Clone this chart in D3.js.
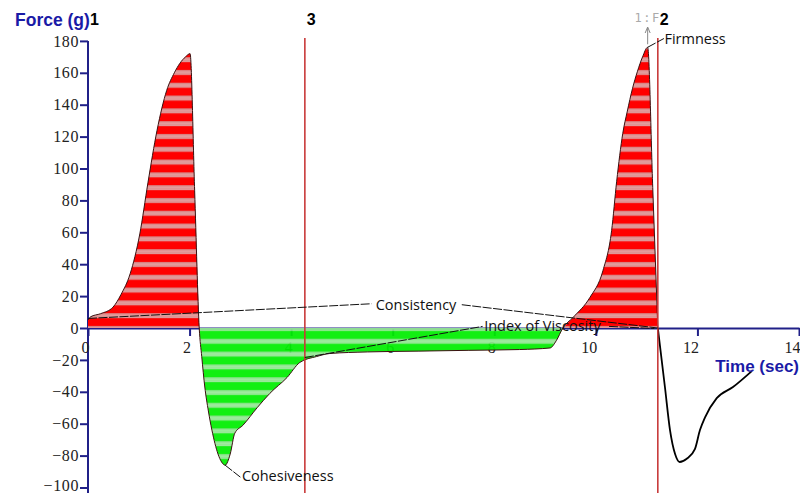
<!DOCTYPE html>
<html><head><meta charset="utf-8">
<script src="https://cdn.jsdelivr.net/npm/d3@7"></script>
<style>body{margin:0;background:#fff}svg{display:block}</style>
</head><body>
<svg id="c" width="800" height="493"></svg>
<script>
// ---- data ----
const timeSec = [0,0.05,0.25,0.49,0.65,0.83,1.02,1.18,1.36,1.55,1.7,1.81,1.92,2.01,2.1,2.19,
  2.24,2.30,2.37,2.44,2.56,2.63,2.70,2.80,2.89,3.05,3.33,3.58,3.92,4.17,4.5,4.76,5.5,6.5,7.5,8.5,9.1,9.22,9.35,
  9.55,9.88,10.14,10.31,10.41,10.53,10.62,10.72,10.82,10.92,11.02,11.12,11.22,
  11.36,11.46,11.56,11.65,11.79,11.95,12.05,12.15,12.38,12.70,13.07];
const forceG = [5,7,9,13,21,34,59,91,124,149,160,166,170,172,86,0,
  -18,-37,-52,-64,-79,-84,-86,-79,-66,-61,-50,-41,-31,-21.6,-17.9,-16,-15,-14.5,-14,-13.5,-12.5,-8,0,
  6.6,19,36,61,92,122,136,150,161,170,176,88,0,
  -37,-64,-79,-84,-82,-76,-64,-56,-44,-37,-27];
// region boundaries (sec): red (positive) 1, green (negative), red 2, unfilled tail
const regions = [[0,2.19,"red"],[2.19,9.35,"green"],[9.35,11.22,"red"]];
const xTicks = [0,2,4,6,8,10,12,14];
const yTicks = [-100,-80,-60,-40,-20,0,20,40,60,80,100,120,140,160,180];
const markers = [{label:"1",t:0.02},{label:"3",t:4.27,line:true},{label:"2",t:11.22,line:true}];
// annotations: label, label anchor (t,F), segments in data units
const annotations = [
  {text:"Consistency", t:6.46, f:14.6, anchor:"middle", segs:[[[0,6],[5.58,15.2]],[[7.36,14.6],[11.22,0]]]},
  {text:"Index of Viscosity", t:7.8, f:1.4, anchor:"start", segs:[[[4.27,-18.5],[7.77,1.0]],[[10.26,1.0],[11.15,-0.3]]]},
  {text:"Cohesiveness", t:3.03, f:-92.5, anchor:"start", segs:[[[2.70,-86],[3.0,-93.5]]]},
  {text:"Firmness", t:11.35, f:181.5, anchor:"start", segs:[[[11.02,176],[11.34,181.5]]]}
];

// ---- chart ----
const svg = d3.select("#c");
const x = d3.scaleLinear().domain([0,14]).range([88,799]);
const y = d3.scaleLinear().domain([-100,180]).range([487.5,40.9]);
const axisCol = "#202088";
const pts = timeSec.map((t,i)=>({t,f:forceG[i]}));

const defs = svg.append("defs");
function stripes(id, base, band, edge){
  const p = defs.append("pattern").attr("id",id).attr("patternUnits","userSpaceOnUse")
    .attr("width",8).attr("height",12.8);
  p.append("rect").attr("width",8).attr("height",12.8).attr("fill",base);
  p.append("rect").attr("y",6).attr("width",8).attr("height",5).attr("fill",band);
  p.append("rect").attr("y",7.5).attr("width",8).attr("height",1).attr("fill",edge);
  p.append("rect").attr("y",9.5).attr("width",8).attr("height",0.8).attr("fill",edge);
}
stripes("redS","#ff0000","#d88a8a","#eaa6a6");
stripes("greenS","#00ee00","#7ee07e","#a8f0a8");

// y axis
const yAx = svg.append("g").attr("transform","translate(88,0)")
  .call(d3.axisLeft(y).tickValues(yTicks).tickSize(8).tickPadding(1).tickSizeOuter(0));
yAx.select(".domain").remove();
yAx.append("line").attr("x1",0).attr("x2",0).attr("y1",y(180)).attr("y2",493)
  .attr("stroke",axisCol).attr("stroke-width",2);
yAx.selectAll(".tick line").attr("stroke",axisCol).attr("stroke-width",2);
yAx.selectAll(".tick text").attr("font-family","'Liberation Serif',serif").attr("font-size",16)
  .attr("fill","#222").attr("letter-spacing","0.6")
  .attr("dy", d => d === -100 ? "0.2em" : "0.32em");

// x axis
const xAx = svg.append("g").attr("transform",`translate(0,${y(0)})`)
  .call(d3.axisBottom(x).tickValues(xTicks).tickSize(8).tickSizeOuter(0));
xAx.select(".domain").attr("stroke",axisCol).attr("stroke-width",2);
xAx.selectAll(".tick line").attr("stroke",axisCol).attr("stroke-width",2);
xAx.selectAll(".tick text").attr("font-family","'Liberation Serif',serif").attr("font-size",16)
  .attr("fill","#222").attr("text-anchor","end").attr("y",14).attr("dy","0.71em").attr("dx",1);

// filled regions
const area = d3.area().x(d=>x(d.t)).y0(y(0)).y1(d=>y(d.f)).curve(d3.curveMonotoneX);
regions.forEach(([a,b,c])=>{
  const seg = pts.filter(d=>d.t>=a-1e-9 && d.t<=b+1e-9);
  svg.append("path").datum(seg).attr("d",area)
    .attr("fill", c==="red"?"url(#redS)":"url(#greenS)")
    .attr("fill-opacity", c==="red"?1:0.93);
});

// curve
const line = d3.line().x(d=>x(d.t)).y(d=>y(d.f)).curve(d3.curveMonotoneX);
svg.append("path").datum(pts.filter(d=>d.t<=11.22)).attr("d",line)
  .attr("fill","none").attr("stroke","#3a1010").attr("stroke-width",1);
svg.append("path").datum(pts.filter(d=>d.t>=11.22)).attr("d",line)
  .attr("fill","none").attr("stroke","#000").attr("stroke-width",1.8);

// marker lines & labels
markers.forEach(m=>{
  if(m.line){
    svg.append("line").attr("x1",x(m.t)).attr("x2",x(m.t)).attr("y1",38).attr("y2",493)
      .attr("stroke","#c83a3a").attr("stroke-width",1.6);
  }
  svg.append("text").attr("x",x(m.t)+ (m.label==="1"?1:2)).attr("y",25).text(m.label)
    .attr("font-family","'Liberation Sans',Arial,sans-serif").attr("font-weight","bold")
    .attr("font-size",16).attr("fill","#000");
});

// axis titles
svg.append("text").attr("x",15).attr("y",26).text("Force (g)")
  .attr("font-family","'Liberation Sans',Arial,sans-serif").attr("font-weight","bold")
  .attr("font-size",17.5).attr("fill","#1a1aa6");
svg.append("text").attr("x",799).attr("y",372).attr("text-anchor","end").text("Time (sec)")
  .attr("font-family","'Liberation Sans',Arial,sans-serif").attr("font-weight","bold")
  .attr("font-size",17).attr("fill","#1a1aa6");

// 1:F marker
svg.append("text").attr("x",x(11.02)).attr("y",22).attr("text-anchor","middle").text("1:F")
  .attr("font-family","'DejaVu Sans Mono',monospace").attr("font-size",12).attr("fill","#aaa")
  .attr("letter-spacing","1.5");
svg.append("line").attr("x1",x(11.02)).attr("x2",x(11.02)).attr("y1",y(176)-3).attr("y2",28)
  .attr("stroke","#888").attr("stroke-width",1);
svg.append("path").attr("d",`M${x(11.02)-2.5},${33}L${x(11.02)},${27}L${x(11.02)+2.5},${33}`)
  .attr("fill","none").attr("stroke","#888");

// annotations
annotations.forEach(a=>{
  a.segs.forEach(s=>{
    svg.append("line").attr("x1",x(s[0][0])).attr("y1",y(s[0][1])).attr("x2",x(s[1][0])).attr("y2",y(s[1][1]))
      .attr("stroke","#111").attr("stroke-width",1).attr("stroke-dasharray","9,1.5");
  });
  svg.append("text").attr("x",x(a.t)).attr("y",y(a.f)).attr("dy","0.35em").attr("text-anchor",a.anchor)
    .text(a.text).attr("font-family","'Open Sans','Noto Sans',sans-serif").attr("font-size",14.5).attr("fill","#111");
});
</script>
</body></html>
